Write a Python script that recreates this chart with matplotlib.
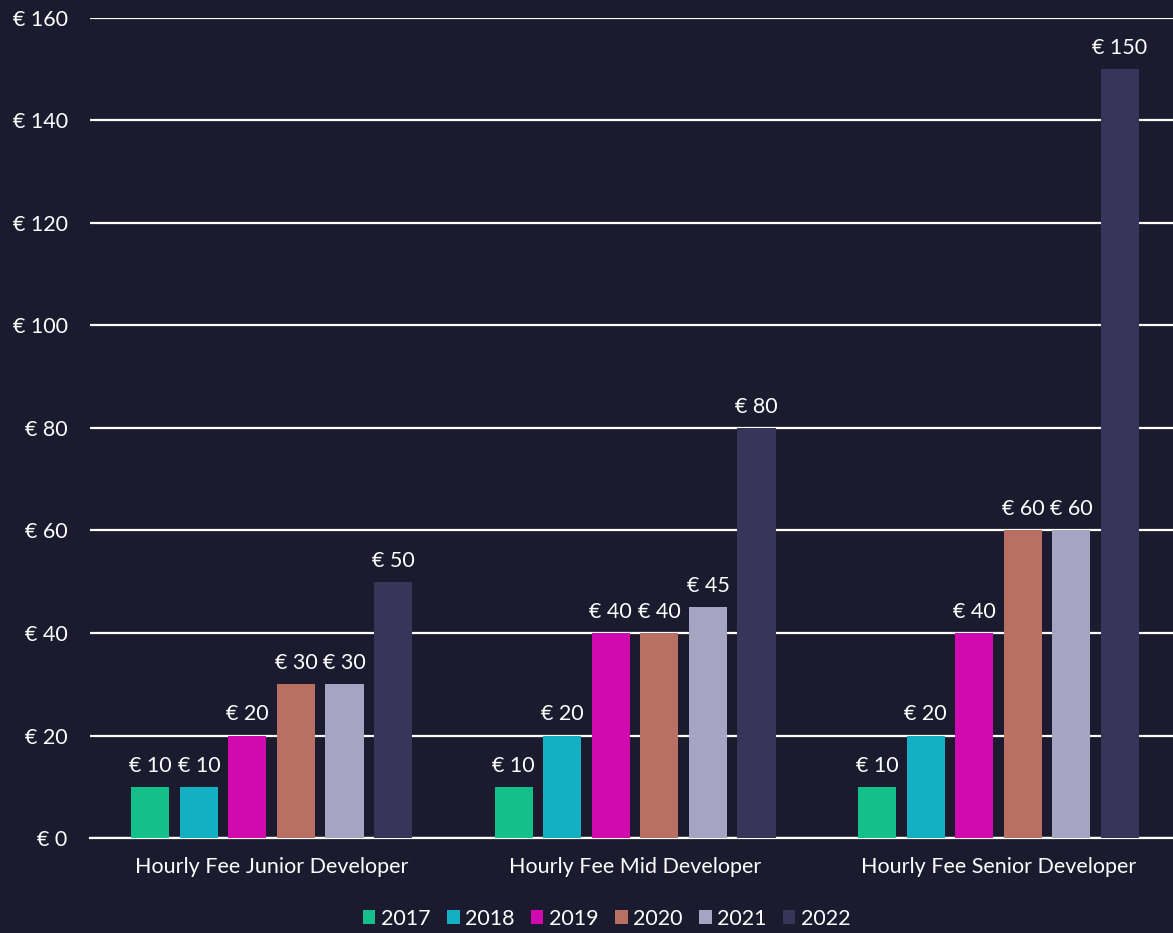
import numpy as np
import matplotlib.pyplot as plt

categories = ['Hourly Fee Junior Developer', 'Hourly Fee Mid Developer', 'Hourly Fee Senior Developer']
years = ['2017', '2018', '2019', '2020', '2021', '2022']
fees = {
    '2017': [10, 10, 10],
    '2018': [10, 20, 20],
    '2019': [20, 40, 40],
    '2020': [30, 40, 60],
    '2021': [30, 45, 60],
    '2022': [50, 80, 150],
}
colors = ['#14c08a', '#12b0c2', '#d00aae', '#b87062', '#a6a4c2', '#38345a']
yticks = [0, 20, 40, 60, 80, 100, 120, 140, 160]

bg = '#1c1a2e'
plt.rcParams['font.family'] = ['Lato', 'DejaVu Sans']

fig = plt.figure(figsize=(11.73, 9.33), dpi=100, facecolor=bg)
ax = fig.add_axes([0.0767, 0.1018, 0.9233, 0.879])
ax.set_facecolor(bg)

x = np.arange(len(categories))
step = 0.1336
width = 0.105
for i, yr in enumerate(years):
    pos = x + (i - 2.5) * step
    bars = ax.bar(pos, fees[yr], width=width, color=colors[i], label=yr, zorder=3)
    for b, v in zip(bars, fees[yr]):
        ax.annotate(f'€ {v}', (b.get_x() + b.get_width() / 2, v),
                    xytext=(0, 8), textcoords='offset points',
                    ha='center', va='bottom', color='white', fontsize=15.5)

ax.set_xlim(-0.5, 2.48)
ax.set_ylim(0, 160)
ax.set_yticks(yticks)
ax.set_yticklabels([f'€ {t}' for t in yticks])
ax.set_xticks(x)
ax.set_xticklabels(categories)
ax.yaxis.grid(True, color='white', linewidth=1.6, zorder=0)
ax.tick_params(axis='both', length=0, colors='white', labelsize=15.5)
ax.tick_params(axis='y', pad=16)
ax.tick_params(axis='x', pad=14)
for s in ['top', 'right', 'left']:
    ax.spines[s].set_visible(False)
ax.spines['bottom'].set_color('white')
ax.spines['bottom'].set_linewidth(1.6)

leg = fig.legend(loc='lower center', bbox_to_anchor=(0.517, -0.016), ncol=6, frameon=False,
                 fontsize=15.5, handlelength=0.6, handleheight=0.6, handletextpad=0.25,
                 columnspacing=0.75)
for t in leg.get_texts():
    t.set_color('white')

fig.savefig('out.png', dpi=100, facecolor=bg)
